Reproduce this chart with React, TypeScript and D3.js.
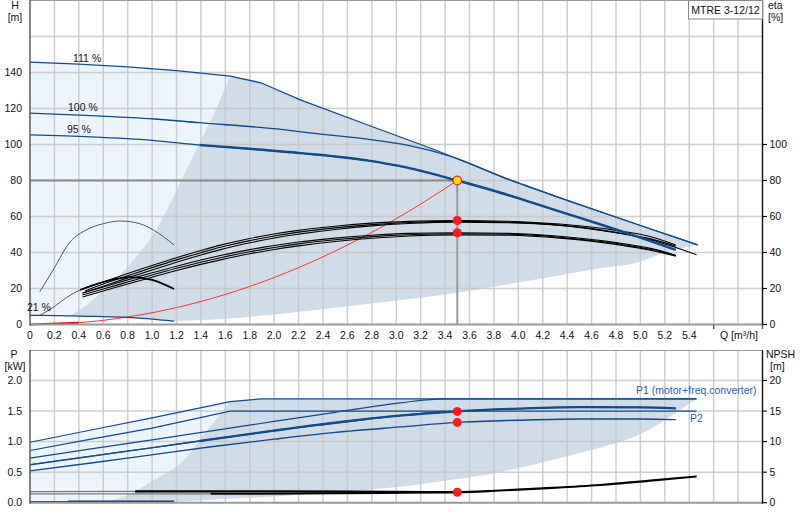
import React from 'react';
import * as d3 from 'd3';

// ---------- tick labels ----------
const qTickLabels = [0, 0.2, 0.4, 0.6, 0.8, 1.0, 1.2, 1.4, 1.6, 1.8, 2.0, 2.2, 2.4, 2.6, 2.8, 3.0, 3.2, 3.4, 3.6, 3.8, 4.0, 4.2, 4.4, 4.6, 4.8, 5.0, 5.2, 5.4];
const hTickLabels = [0, 20, 40, 60, 80, 100, 120, 140];
const etaTickLabels = [0, 20, 40, 60, 80, 100];
const pTickLabels = [0, 0.5, 1.0, 1.5, 2.0];
const npshTickLabels = [0, 5, 10, 15, 20];

// ---------- head curves (H, m) ----------
const h111Q = [0, 0.4, 0.8, 1.2, 1.64, 1.89, 2.22, 2.8, 3.3, 3.93, 4.4, 5.0, 5.47];
const h111H = [145.8, 144.6, 143.1, 141, 138, 134.3, 124.7, 110, 97.5, 80.3, 69, 55, 44.2];
const h100Q = [0, 0.5, 1.0, 1.39, 2.0, 2.38, 2.76, 3.1, 3.44, 3.93, 4.4, 5.0, 5.47];
const h100H = [117.4, 116, 114.3, 112.1, 108.8, 105.8, 103.0, 99.5, 93.5, 80.3, 69, 55, 44.2];
const h95Q = [0, 0.5, 1.0, 1.39, 1.8, 2.22, 2.76, 3.1, 3.5, 3.8, 4.1, 4.4, 4.7, 5.0, 5.29];
const h95H = [105.3, 104.2, 102.3, 99.7, 97.6, 95.2, 91.2, 87.0, 80, 74.3, 68, 61.5, 55, 48.3, 41.5];
const h21Q = [0, 0.1, 0.33, 0.4, 0.8, 1.18];
const h21H = [5.1, 5.1, 4.8, 4.7, 4.0, 1.9];

// operating area boundaries (top chart)
const areaLeftQ = [0.33, 0.45, 0.6, 0.8, 1.0, 1.12, 1.39, 1.52, 1.64];
const areaLeftH = [4.8, 10, 19, 32, 49, 63.6, 101, 119, 138];
const areaLowQ = [1.18, 1.6, 2.21, 3.03, 3.5, 4.12, 4.67, 4.95, 5.22, 5.47];
const areaLowH = [1.9, 3.2, 7.1, 13.6, 17.7, 24.7, 31.2, 34, 40.4, 44.2];

// system curve
const sysQ = [0, 0.4, 0.8, 1.2, 1.6, 2.0, 2.4, 2.8, 3.2, 3.5];
const sysH = [0, 1.0, 4.2, 9.4, 16.7, 26.1, 37.6, 51.2, 66.9, 80];

// ---------- efficiency curves (eta, %) ----------
const etaArcQ = [0.08, 0.19, 0.33, 0.46, 0.6, 0.74, 0.9, 1.01, 1.18];
const etaArcV = [18.2, 30.3, 46, 52.5, 56, 57.5, 56, 52.5, 44.2];
const eta21Q = [0.08, 0.2, 0.3, 0.41, 0.6, 0.82, 1.0, 1.18];
const eta21V = [5, 10, 15, 19.2, 23.6, 26.3, 24.8, 19.7];
const etaQ = [0.43, 0.6, 0.8, 1.0, 1.2, 1.4, 1.56, 1.8, 2.0, 2.2, 2.5, 2.8, 3.1, 3.5, 3.9, 4.34, 4.8, 5.1, 5.29];
const etaQLong = [0.45, 0.6, 0.8, 1.0, 1.2, 1.4, 1.56, 1.8, 2.0, 2.2, 2.5, 2.8, 3.1, 3.5, 3.9, 4.34, 4.8, 5.1, 5.46];
const etaU1 = [19.6, 23.6, 28.3, 32.8, 37.1, 41.1, 44.1, 47.8, 50.3, 52.3, 54.6, 56.3, 57.3, 57.8, 57.4, 55.8, 52.3, 48.5, 44.2];
const etaU2 = [18.6, 22.5, 27.1, 31.6, 35.9, 39.9, 42.9, 46.6, 49.2, 51.3, 53.7, 55.5, 56.7, 57.3, 56.9, 55.2, 51.2, 46.8, 38.7];
const etaU3 = [17.4, 21.3, 25.9, 30.3, 34.6, 38.6, 41.6, 45.4, 48.1, 50.2, 52.8, 54.8, 56.1, 56.9, 56.6, 55.0, 51.0, 47.3, 43.5];
const etaL1 = [17.5, 20.8, 24.8, 28.7, 32.4, 35.8, 38.3, 41.6, 43.9, 45.8, 48.0, 49.6, 50.6, 51.0, 50.7, 49.0, 45.5, 42.0, 38.5];
const etaL2 = [16.4, 19.7, 23.6, 27.5, 31.2, 34.6, 37.1, 40.4, 42.8, 44.8, 47.1, 48.8, 49.9, 50.4, 50.2, 48.5, 45.0, 41.5, 38.2];
const etaL3 = [15.3, 18.6, 22.5, 26.3, 30.0, 33.4, 35.9, 39.3, 41.7, 43.7, 46.1, 47.9, 49.2, 49.8, 49.6, 48.0, 44.5, 41.0, 38.0];

// duty point
const dutyQ = 3.5;
const dutyH = 80;
const dutyEta = [57.8, 51];
const dutyP = [1.495, 1.315];
const dutyNpsh = 1.71;

// ---------- power curves (P, kW) ----------
const p1x111Q = [0, 0.5, 1.0, 1.64, 1.89, 5.46];
const p1x111P = [0.99, 1.19, 1.39, 1.656, 1.70, 1.70];
const p2x111Q = [0, 0.5, 1.0, 1.64, 5.46];
const p2x111P = [0.855, 1.04, 1.22, 1.50, 1.50];
const p1x100Q = [0, 0.5, 1.0, 1.5, 2.0, 2.5, 3.03, 3.4, 5.46];
const p1x100P = [0.73, 0.88, 1.03, 1.18, 1.33, 1.48, 1.635, 1.70, 1.70];
const p2x100Q = [0, 0.5, 1.0, 1.5, 2.0, 2.5, 3.0, 3.4];
const p2x100P = [0.625, 0.765, 0.9, 1.04, 1.18, 1.3, 1.42, 1.50];
const p1x95Q = [0, 0.5, 0.98, 1.39, 2.0, 2.5, 3.03, 3.5, 4.0, 4.5, 5.0, 5.29];
const p1x95P = [0.62, 0.76, 0.895, 1.01, 1.18, 1.31, 1.425, 1.495, 1.54, 1.565, 1.56, 1.545];
const p2x95Q = [0, 0.5, 0.98, 1.5, 2.0, 2.5, 3.03, 3.5, 4.0, 4.5, 5.0, 5.29];
const p2x95P = [0.52, 0.65, 0.78, 0.92, 1.04, 1.15, 1.24, 1.315, 1.35, 1.37, 1.37, 1.36];
const p21Q = [0, 0.31, 0.6, 1.18];
const p21P = [0.018, 0.018, 0.017, 0.016];

// operating area boundaries (power chart)
const pAreaLeftQ = [0.6, 0.8, 0.98, 1.1, 1.2, 1.31, 1.39, 1.5, 1.64];
const pAreaLeftP = [0, 0.12, 0.33, 0.47, 0.59, 0.81, 1.03, 1.3, 1.656];
const pAreaLowQ = [0.6, 1.2, 1.6, 2.0, 2.5, 3.03, 3.44, 3.85, 4.4, 4.95, 5.2, 5.46];
const pAreaLowP = [0, 0.02, 0.06, 0.1, 0.17, 0.26, 0.37, 0.5, 0.76, 1.08, 1.35, 1.70];

// ---------- NPSH curves (m) ----------
const npshAQ = [0, 0.86, 2.0, 3.0, 3.5, 3.85, 4.2, 4.67, 5.08, 5.46];
const npshAV = [1.8, 1.85, 1.85, 1.78, 1.72, 2.0, 2.35, 2.9, 3.6, 4.3];
const npshBQ = [0, 1.48, 2.5, 3.2, 3.5];
const npshBV = [1.45, 1.45, 1.55, 1.65, 1.7];

const FONT = '"Liberation Sans", Arial, sans-serif';
const BLUE = '#114b8b';
const LIGHT = '#edf5fc';
const GRAY = '#d0dce7';

type Pt = [number, number];

export default function App() {
  const x = d3.scaleLinear().domain([0, 6]).range([30, 762.5]);
  const yH = d3.scaleLinear().domain([0, 180]).range([324.5, 0.5]);
  const yP = d3.scaleLinear().domain([0, 2.5]).range([502.7, 350]);
  const yN = d3.scaleLinear().domain([0, 25]).range([502.7, 350]);

  const pts = (qs: number[], vs: number[], ys: d3.ScaleLinear<number, number>): Pt[] =>
    qs.map((q, i) => [x(q), ys(vs[i])] as Pt);
  const sub = (qs: number[], vs: number[], ys: any, from: number, to = 99) => {
    const a: Pt[] = [];
    qs.forEach((q, i) => { if (q >= from - 1e-9 && q <= to + 1e-9) a.push([x(q), ys(vs[i])]); });
    return a;
  };
  const lineM = d3.line<Pt>().curve(d3.curveMonotoneX);
  const lineL = d3.line<Pt>();
  const lineC = d3.line<Pt>().curve(d3.curveCatmullRom.alpha(0.5));
  const join = (paths: string[]) => paths.map((p, i) => (i ? p.replace(/^M/, 'L') : p)).join('') + 'Z';

  // top chart regions
  const topLight = join([
    lineL(sub(h111Q, h111H, yH, 0, 1.64))!,
    lineC(pts(areaLeftQ, areaLeftH, yH).slice().reverse())!,
    lineL(sub(h21Q, h21H, yH, 0, 0.33).reverse())!,
  ]);
  const topGray = join([
    lineL(sub(h111Q, h111H, yH, 1.64))!,
    lineC(pts(areaLowQ, areaLowH, yH).slice().reverse())!,
    lineL(sub(h21Q, h21H, yH, 0.33, 1.18).reverse())!,
    lineC(pts(areaLeftQ, areaLeftH, yH))!,
  ]);
  const botLight = join([
    lineL([[x(0), yP(0)] as Pt, ...sub(p1x111Q, p1x111P, yP, 0, 1.0), [x(1.64), yP(1.656)] as Pt])!,
    lineC(pts(pAreaLeftQ, pAreaLeftP, yP).slice().reverse())!,
  ]);
  const botGray = join([
    lineL(sub(p1x111Q, p1x111P, yP, 1.64))!,
    lineC(pts(pAreaLowQ, pAreaLowP, yP).slice().reverse())!,
    lineC(pts(pAreaLeftQ, pAreaLeftP, yP))!,
  ]);

  const vGrid = d3.range(1, 31).map((i) => i * 0.2);
  const hGridTop = [20, 40, 60, 80, 100, 120, 140, 160];
  const hGridBot = [0.5, 1.0, 1.5, 2.0];

  const fmtQ = (v: number) => (v === 0 ? '0' : v.toFixed(1));

  const etaBundle: [number[], number[]][] = [
    [etaQ, etaU1], [etaQLong, etaU2], [etaQ, etaU3], [etaQ, etaL1], [etaQ, etaL2], [etaQ, etaL3],
  ];

  const txt = { fontFamily: FONT, fontSize: 10.5, fill: '#111' } as const;

  return (
    <svg width={800} height={520} style={{ position: 'absolute', left: 0, top: 0, background: '#fff' }}>
      {/* regions */}
      <path d={topLight} fill={LIGHT} />
      <path d={topGray} fill={GRAY} />
      <path d={botLight} fill={LIGHT} />
      <path d={botGray} fill={GRAY} />

      {/* grid */}
      <g stroke="#c6c6c6" strokeOpacity={0.85} strokeWidth={1.5}>
        {vGrid.map((q) => (
          <g key={'vg' + q}>
            <line x1={x(q)} x2={x(q)} y1={0} y2={324.5} />
            <line x1={x(q)} x2={x(q)} y1={350} y2={502.7} />
          </g>
        ))}
        {hGridTop.map((h) => (
          <line key={'hg' + h} x1={30} x2={762.5} y1={yH(h)} y2={yH(h)} />
        ))}
        {hGridBot.map((p) => (
          <line key={'pg' + p} x1={30} x2={762.5} y1={yP(p)} y2={yP(p)} />
        ))}
      </g>

      {/* duty guide lines */}
      <line x1={30} x2={x(dutyQ)} y1={yH(dutyH)} y2={yH(dutyH)} stroke="#8a8a8a" strokeWidth={2} />
      <line x1={x(dutyQ)} x2={x(dutyQ)} y1={yH(dutyH)} y2={324.5} stroke="#9a9a9a" strokeWidth={2} />

      {/* system curve */}
      <path d={lineM(pts(sysQ, sysH, yH))!} fill="none" stroke="#ff3030" strokeWidth={1} />
      <path d={lineM(sub(sysQ, sysH, yH, 0, 0.4))!} fill="none" stroke="#e01010" strokeWidth={2} />

      {/* efficiency curves */}
      <path d={lineM(pts(etaArcQ, etaArcV, yH))!} fill="none" stroke="#555" strokeWidth={1} />
      <path d={lineM(pts(eta21Q, eta21V, yH))!} fill="none" stroke="#555" strokeWidth={1} />
      <path d={lineM(sub(eta21Q, eta21V, yH, 0.41))!} fill="none" stroke="#000" strokeWidth={1.6} />
      {etaBundle.map(([q, v], i) => (
        <path key={'eta' + i} d={lineM(pts(q, v, yH))!} fill="none" stroke="#000" strokeWidth={1.1} />
      ))}

      {/* head curves */}
      <path d={lineM(pts(h21Q, h21H, yH))!} fill="none" stroke={BLUE} strokeWidth={1.3} />
      <path d={lineL(pts(h111Q, h111H, yH))!} fill="none" stroke={BLUE} strokeWidth={1.3} />
      <path d={lineM(pts(h100Q, h100H, yH))!} fill="none" stroke={BLUE} strokeWidth={1.3} />
      <path d={lineM(pts(h95Q, h95H, yH))!} fill="none" stroke={BLUE} strokeWidth={1.3} />
      <path d={lineM(sub(h95Q, h95H, yH, 1.39))!} fill="none" stroke={BLUE} strokeWidth={2.4} />

      {/* power curves */}
      <path d={lineL(pts(p1x111Q, p1x111P, yP))!} fill="none" stroke={BLUE} strokeWidth={1.2} />
      <path d={lineL(pts(p2x111Q, p2x111P, yP))!} fill="none" stroke={BLUE} strokeWidth={1.2} />
      <path d={lineM(pts(p1x100Q, p1x100P, yP))!} fill="none" stroke={BLUE} strokeWidth={1.2} />
      <path d={lineM(pts(p2x100Q, p2x100P, yP))!} fill="none" stroke={BLUE} strokeWidth={1.2} />
      <path d={lineM(pts(p1x95Q, p1x95P, yP))!} fill="none" stroke={BLUE} strokeWidth={1.3} />
      <path d={lineM(sub(p1x95Q, p1x95P, yP, 1.39))!} fill="none" stroke={BLUE} strokeWidth={2.3} />
      <path d={lineM(pts(p2x95Q, p2x95P, yP))!} fill="none" stroke={BLUE} strokeWidth={1.3} />
      <path d={lineL(pts(p21Q, p21P, yP))!} fill="none" stroke={BLUE} strokeWidth={1.2} />
      <path d={lineL(sub(p21Q, p21P, yP, 0.31))!} fill="none" stroke="#10305a" strokeWidth={2.2} />

      {/* NPSH curves */}
      <path d={lineL(pts(npshAQ, npshAV, yN).slice(0, 2))!} fill="none" stroke="#777" strokeWidth={1.2} />
      <path d={lineM(sub(npshAQ, npshAV, yN, 0.86))!} fill="none" stroke="#000" strokeWidth={2.2} />
      <path d={lineL(pts(npshBQ, npshBV, yN).slice(0, 2))!} fill="none" stroke="#777" strokeWidth={1.2} />
      <path d={lineM(sub(npshBQ, npshBV, yN, 1.48))!} fill="none" stroke="#000" strokeWidth={2} />

      {/* duty markers */}
      {dutyEta.map((e) => (
        <circle key={'de' + e} cx={x(dutyQ)} cy={yH(e)} r={4.5} fill="#ff1a1a" />
      ))}
      {dutyP.map((p) => (
        <circle key={'dp' + p} cx={x(dutyQ)} cy={yP(p)} r={4.5} fill="#ff1a1a" />
      ))}
      <circle cx={x(dutyQ)} cy={yN(dutyNpsh)} r={4.5} fill="#ff1a1a" />
      <circle cx={x(dutyQ)} cy={yH(dutyH)} r={4.3} fill="#ffe000" stroke="#e03020" strokeWidth={1.3} />

      {/* frames */}
      <g fill="none">
        <line x1={30} x2={762.5} y1={0.5} y2={0.5} stroke="#999" strokeWidth={1} />
        <line x1={30} x2={762.5} y1={324.5} y2={324.5} stroke="#999" strokeWidth={2} />
        <line x1={30} x2={30} y1={0} y2={325.5} stroke="#444" strokeWidth={1.3} />
        <line x1={762.5} x2={762.5} y1={0} y2={325.5} stroke="#111" strokeWidth={1.3} />
        <line x1={30} x2={762.5} y1={350.5} y2={350.5} stroke="#999" strokeWidth={1} />
        <line x1={30} x2={762.5} y1={502.7} y2={502.7} stroke="#999" strokeWidth={2} />
        <line x1={30} x2={30} y1={350} y2={503.7} stroke="#444" strokeWidth={1.3} />
        <line x1={762.5} x2={762.5} y1={350} y2={503.7} stroke="#111" strokeWidth={1.3} />
        <line x1={x(5.6)} x2={x(5.6)} y1={324.5} y2={329} stroke="#555" strokeWidth={1.3} />
        <line x1={762.5} x2={762.5} y1={324.5} y2={329} stroke="#555" strokeWidth={1.3} />
      </g>

      {/* title box */}
      <rect x={688.5} y={0.5} width={74} height={18.5} fill="#fff" stroke="#888" strokeWidth={1} />
      <text x={725.5} y={13.5} textAnchor="middle" {...txt}>MTRE 3-12/12</text>

      {/* left axis (top) */}
      <text x={15} y={9} textAnchor="middle" {...txt}>H</text>
      <text x={15} y={21} textAnchor="middle" {...txt}>[m]</text>
      {hTickLabels.map((h) => (
        <text key={'hl' + h} x={22} y={yH(h) + 3.7} textAnchor="end" {...txt}>{h}</text>
      ))}
      {/* right axis (top) */}
      <text x={768} y={9} {...txt}>eta</text>
      <text x={768} y={21} {...txt}>[%]</text>
      {etaTickLabels.map((e) => (
        <g key={'el' + e}>
          <line x1={762.5} x2={767} y1={yH(e)} y2={yH(e)} stroke="#111" strokeWidth={1.2} />
          <text x={769.5} y={yH(e) + 3.7} {...txt}>{e}</text>
        </g>
      ))}
      {/* x labels */}
      {qTickLabels.map((q) => (
        <text key={'ql' + q} x={x(q)} y={338.5} textAnchor="middle" {...txt}>{fmtQ(q)}</text>
      ))}
      <text x={720} y={338.5} {...txt}>Q [m³/h]</text>

      {/* curve labels */}
      <text x={73} y={62} {...txt}>111 %</text>
      <text x={68} y={111} {...txt}>100 %</text>
      <text x={67} y={133} {...txt}>95 %</text>
      <text x={27} y={311} {...txt}>21 %</text>

      {/* bottom axes */}
      <text x={14} y={358} textAnchor="middle" {...txt}>P</text>
      <text x={15} y={369.5} textAnchor="middle" {...txt}>[kW]</text>
      {pTickLabels.map((p) => (
        <text key={'pl' + p} x={22} y={yP(p) + 3.7} textAnchor="end" {...txt}>{p.toFixed(1)}</text>
      ))}
      <text x={766} y={358} {...txt}>NPSH</text>
      <text x={770} y={369.5} {...txt}>[m]</text>
      {npshTickLabels.map((n) => (
        <g key={'nl' + n}>
          <line x1={762.5} x2={767} y1={yN(n)} y2={yN(n)} stroke="#111" strokeWidth={1.2} />
          <text x={769.5} y={yN(n) + 3.7} {...txt}>{n}</text>
        </g>
      ))}
      <text x={636} y={394} {...txt} fill="#2a62a8">P1 (motor+freq.converter)</text>
      <text x={690} y={422} {...txt} fill="#2a62a8">P2</text>
    </svg>
  );
}
